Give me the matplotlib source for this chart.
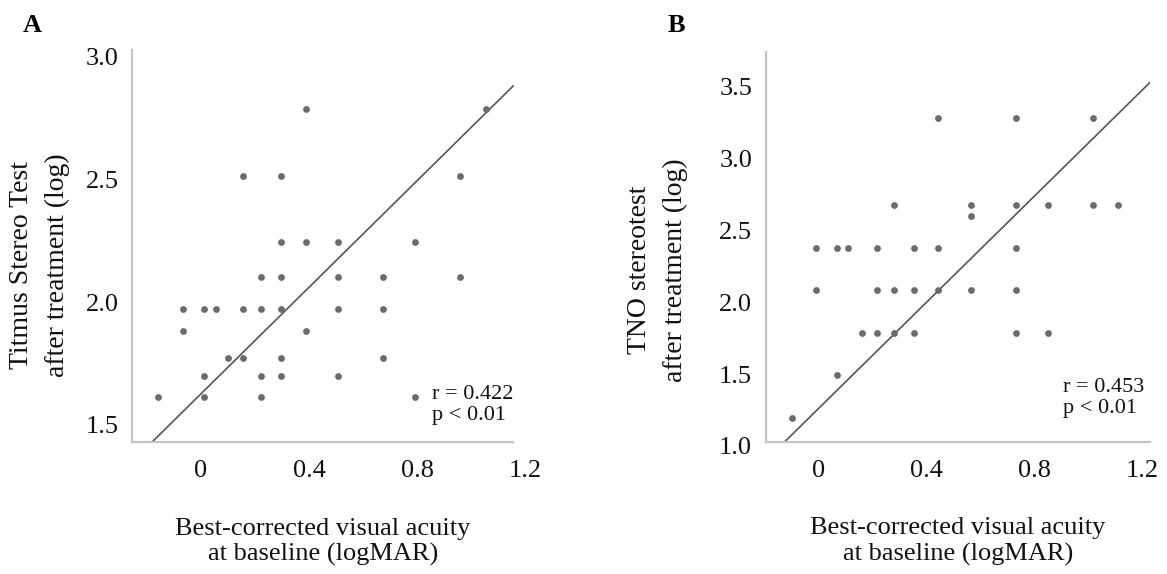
import matplotlib.pyplot as plt
import numpy as np

plt.rcParams['font.family'] = ['Liberation Serif', 'DejaVu Serif']

# panel A: Titmus stereo test vs baseline BCVA
titmus_x = [0.388, 1.054, 0.157, 0.296, 0.959, 0.296, 0.388, 0.506, 0.792,
            0.221, 0.296, 0.506, 0.674, 0.959, -0.065, 0.011, 0.055, 0.157,
            0.221, 0.296, 0.506, 0.674, -0.065, 0.388, 0.101, 0.157, 0.296,
            0.674, 0.011, 0.221, 0.296, 0.506, -0.158, 0.011, 0.221, 0.792]
titmus_y = [2.787, 2.787, 2.514, 2.514, 2.514, 2.244, 2.244, 2.244, 2.244,
            2.104, 2.104, 2.104, 2.104, 2.104, 1.972, 1.972, 1.972, 1.972,
            1.972, 1.972, 1.972, 1.972, 1.884, 1.884, 1.771, 1.771, 1.771,
            1.771, 1.701, 1.701, 1.701, 1.701, 1.614, 1.614, 1.614, 1.614]
titmus_fit = (1.627, 1.085)  # intercept, slope
titmus_stats = "r = 0.422\np < 0.01"

# panel B: TNO stereotest vs baseline BCVA
tno_x = [0.445, 0.732, 1.018,
         0.281, 0.564, 0.732, 0.849, 1.018, 1.111,
         0.564,
         -0.008, 0.068, 0.111, 0.217, 0.356, 0.445, 0.732,
         -0.008, 0.217, 0.281, 0.356, 0.445, 0.564, 0.732,
         0.161, 0.217, 0.281, 0.356, 0.732, 0.849,
         0.068,
         -0.098]
tno_y = [3.282, 3.282, 3.282,
         2.678, 2.678, 2.678, 2.678, 2.678, 2.678,
         2.597,
         2.381, 2.381, 2.381, 2.381, 2.381, 2.381, 2.381,
         2.086, 2.086, 2.086, 2.086, 2.086, 2.086, 2.086,
         1.789, 1.789, 1.789, 1.789, 1.789, 1.789,
         1.494,
         1.197]
tno_fit = (1.258, 1.850)
tno_stats = "r = 0.453\np < 0.01"

x_ticks = [0, 0.4, 0.8, 1.2]
x_ticklabels = ["0", "0.4", "0.8", "1.2"]
titmus_yticks = [1.5, 2.0, 2.5, 3.0]
tno_yticks = [1.0, 1.5, 2.0, 2.5, 3.0, 3.5]

xlabel = "Best-corrected visual acuity\nat baseline (logMAR)"

fig = plt.figure(figsize=(11.67, 5.74), dpi=100)
axA = fig.add_axes([0.1134, 0.2305, 0.3390, 0.6824])
axB = fig.add_axes([0.6564, 0.2206, 0.3290, 0.6894])


def style_panel(ax, xs, ys, fit, stats, yticks, ylabel, xlim, ylim, frame,
                ylabel_pos, xlabel_pos, stats_pos):
    # frame = (x0, x1, y0, y1): where the drawn axis lines stop
    x0, x1, y0, y1 = frame
    ax.scatter(xs, ys, s=24, color='#6b6b6b', linewidths=0, zorder=3)
    x_start = (y0 - fit[0]) / fit[1]
    line_x = np.array([x_start, x1])
    ax.plot(line_x, fit[0] + fit[1] * line_x, color='#555555', lw=1.2, zorder=2)
    ax.set_xticks(x_ticks)
    ax.set_xticklabels(x_ticklabels)
    ax.set_yticks(yticks)
    ax.set_yticklabels(["%.1f" % v for v in yticks])
    ax.set_xlim(*xlim)
    ax.set_ylim(*ylim)
    ax.tick_params(length=0, labelsize=19, colors='#111111')
    ax.tick_params(axis='x', pad=13)
    ax.tick_params(axis='y', pad=10)
    for side in ['top', 'right']:
        ax.spines[side].set_visible(False)
    for side in ['left', 'bottom']:
        ax.spines[side].set_color('#c4c4c4')
        ax.spines[side].set_linewidth(1.6)
    ax.spines['bottom'].set_position(('data', y0))
    ax.spines['bottom'].set_bounds(x0, x1)
    ax.spines['left'].set_bounds(y0, y1)
    ax.set_xlabel(xlabel, fontsize=19, color='#111111', va='top')
    ax.xaxis.set_label_coords(*xlabel_pos)
    ax.set_ylabel(ylabel, fontsize=20, color='#111111', linespacing=1.55)
    ax.yaxis.set_label_coords(*ylabel_pos)
    ax.text(stats_pos[0], stats_pos[1], stats, transform=ax.transAxes,
            fontsize=16, ha='left', va='center', color='#111111', linespacing=1.15)


style_panel(axA, titmus_x, titmus_y, titmus_fit, titmus_stats, titmus_yticks,
            "Titmus Stereo Test\nafter treatment (log)",
            (-0.254, 1.21), (1.432, 3.027), (-0.254, 1.155, 1.432, 3.027),
            (-0.158, 0.451), (0.482, -0.194), (0.757, 0.094))
style_panel(axB, tno_x, tno_y, tno_fit, tno_stats, tno_yticks,
            "TNO stereotest\nafter treatment (log)",
            (-0.193, 1.228), (0.99, 3.744), (-0.193, 1.228, 1.030, 3.744),
            (-0.203, 0.448), (0.5, -0.176), (0.774, 0.124))

fig.text(32 / 1167, 1 - 25 / 574, "A", fontsize=19, fontweight='bold', ha='center', va='center')
fig.text(676 / 1167, 1 - 25 / 574, "B", fontsize=19, fontweight='bold', ha='center', va='center')

fig.savefig("out.png", dpi=100)
